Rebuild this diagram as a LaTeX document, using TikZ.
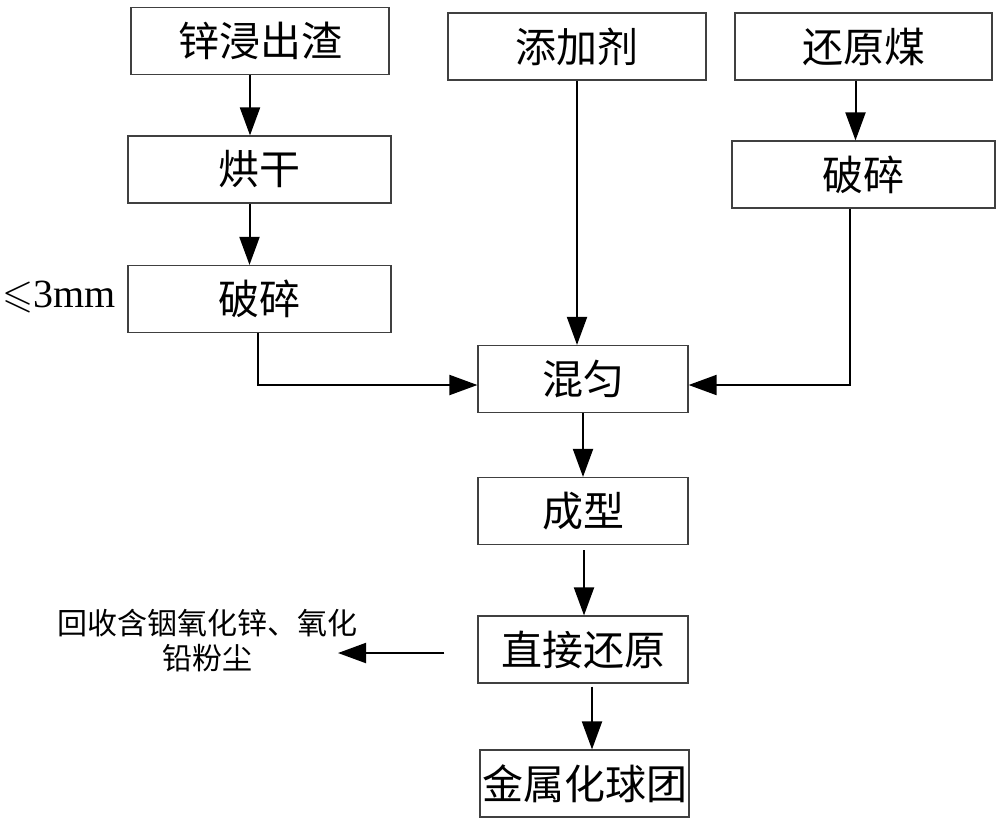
\documentclass[tikz,border=0pt]{standalone}
\usepackage{amssymb}
\usepackage{fontspec}
\setmainfont{Liberation Serif}
\newfontfamily\cjk{Noto Sans CJK SC}
\usetikzlibrary{arrows.meta}

\begin{document}
\begin{tikzpicture}[
	x=0.5pt, y=-0.5pt,
	every node/.style={align=center},
	procbox/.style={draw=black!75, line width=0.6pt, minimum height=33.5pt, inner sep=0pt, font=\cjk\fontsize{20.5pt}{24pt}\selectfont},
	notetext/.style={inner sep=0pt, font=\cjk\fontsize{15pt}{17.5pt}\selectfont},
	arr/.style={-{Triangle[length=14pt,width=10pt]}, line width=1pt}
	]
	
	\useasboundingbox (0,0) rectangle (1000,821);
	
	% Nodes
	\node[procbox, minimum width=129pt] (zinc) at (260,41) {锌浸出渣};
	\node[procbox, minimum width=131.5pt] (dry) at (259.5,169.5) {烘干};
	\node[procbox, minimum width=131.5pt] (crushL) at (259.5,299) {破碎};
	\node[inner sep=0pt, font=\fontsize{20pt}{24pt}\selectfont] (size) at (59,297) {$\leqslant$3mm};
	
	\node[procbox, minimum width=129pt] (additive) at (577,46.5) {添加剂};
	\node[procbox, minimum width=128.5pt] (coal) at (863.5,46.5) {还原煤};
	\node[procbox, minimum width=131.5pt] (crushR) at (863.5,174.5) {破碎};
	
	\node[procbox, minimum width=105pt] (mix) at (583,379) {混匀};
	\node[procbox, minimum width=105pt] (shape) at (583,511) {成型};
	\node[procbox, minimum width=105pt] (reduce) at (583,649.5) {直接还原};
	\node[procbox, minimum width=104.5pt] (pellet) at (584.5,783.5) {金属化球团};
	
	\node[notetext] (dust) at (207,640.5) {回收含铟氧化锌、氧化\\铅粉尘};
	\coordinate (dustend) at (338,653);
	
	% Arrows
	\draw[arr] ([xshift=-5pt]zinc.south) -- ([xshift=-5pt]zinc.south |- dry.north);
	\draw[arr] ([xshift=-5pt]dry.south) -- ([xshift=-5pt]dry.south |- crushL.north);
	\draw[arr] ([xshift=-1pt]crushL.south) |- ([yshift=-3pt]mix.west);
	
	\draw[arr] (additive.south) -- ([xshift=-3pt]mix.north);
	\draw[arr] ([xshift=-4pt]coal.south) -- ([xshift=-4pt]coal.south |- crushR.north);
	\draw[arr] ([xshift=-7pt]crushR.south) |- ([yshift=-3pt]mix.east);
	
	\draw[arr] (mix.south) -- (shape.north);
	\draw[arr, shorten <=2.5pt] ([xshift=0.5pt]shape.south) -- ([xshift=0.5pt]reduce.north);
	\draw[arr, shorten <=1.5pt] ([xshift=4.5pt]reduce.south) -- ([xshift=3.75pt]pellet.north);
	\draw[arr, shorten <=16.5pt] ([yshift=-1.75pt]reduce.west) -- (dustend);
	
\end{tikzpicture}
\end{document}
